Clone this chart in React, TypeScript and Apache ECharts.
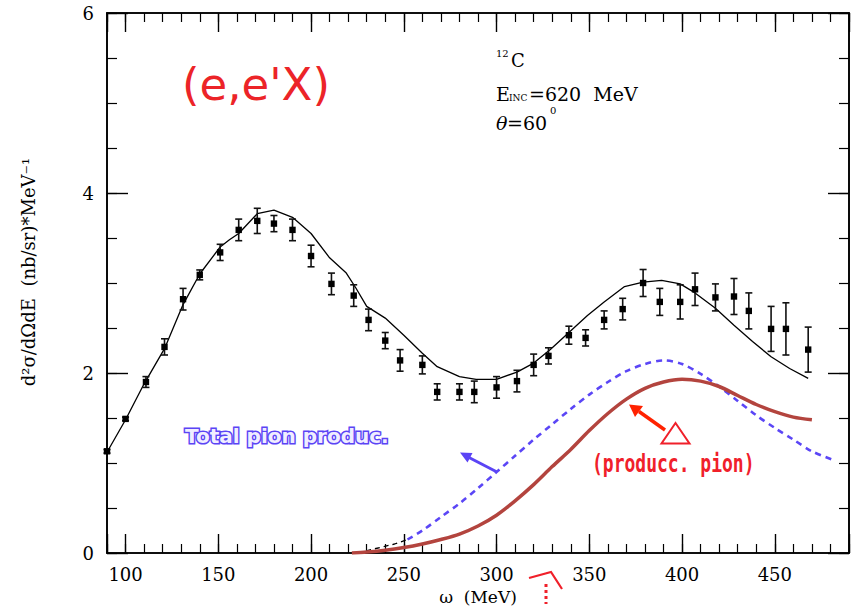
import React, { useEffect, useRef } from "react";
import * as echarts from "echarts";

// Experimental data: omega (MeV), cross section, error
const omega = [90, 100, 111, 121, 131, 140, 151, 161, 171, 180, 190, 200, 211, 223, 231, 240, 248, 260, 268, 280, 288, 300, 311, 320, 328, 339, 348, 358, 368, 379, 388, 399, 407, 418, 428, 436, 448, 456, 468];
const sigma = [1.13, 1.49, 1.90, 2.29, 2.82, 3.09, 3.34, 3.59, 3.69, 3.66, 3.59, 3.30, 2.99, 2.86, 2.59, 2.36, 2.14, 2.09, 1.79, 1.79, 1.79, 1.84, 1.91, 2.09, 2.19, 2.42, 2.39, 2.59, 2.71, 3.00, 2.79, 2.79, 2.93, 2.84, 2.85, 2.69, 2.49, 2.49, 2.26];
const sigmaErr = [0.02, 0.02, 0.06, 0.09, 0.12, 0.055, 0.09, 0.12, 0.14, 0.09, 0.12, 0.12, 0.12, 0.12, 0.12, 0.09, 0.12, 0.10, 0.09, 0.09, 0.12, 0.12, 0.12, 0.12, 0.09, 0.10, 0.09, 0.10, 0.12, 0.15, 0.15, 0.19, 0.18, 0.15, 0.20, 0.20, 0.25, 0.29, 0.25];

// Full theory curve
const theoryW = [90, 100, 110, 121, 131, 140, 151, 156, 161, 171, 180, 190, 200, 210, 219, 224, 230, 240, 250, 260, 268, 280, 289, 300, 311, 320, 329, 339, 349, 358, 369, 379, 389, 399, 407, 418, 428, 438, 448, 458, 468];
const theoryV = [1.12, 1.48, 1.88, 2.27, 2.76, 3.10, 3.40, 3.48, 3.55, 3.77, 3.81, 3.73, 3.55, 3.28, 3.11, 2.95, 2.74, 2.61, 2.42, 2.22, 2.07, 1.96, 1.93, 1.93, 2.01, 2.11, 2.26, 2.45, 2.64, 2.79, 2.96, 3.01, 3.03, 2.99, 2.89, 2.72, 2.53, 2.35, 2.18, 2.05, 1.94];

// Total pion production (dashed)
const startW = [225, 235, 245, 252];
const startV = [0.0, 0.05, 0.10, 0.15];
const totalW = [252, 260, 270, 280, 290, 300, 310, 320, 330, 340, 350, 360, 370, 380, 390, 400, 410, 420, 430, 440, 450, 460, 470, 482];
const totalV = [0.15, 0.25, 0.40, 0.55, 0.72, 0.90, 1.08, 1.26, 1.43, 1.60, 1.76, 1.90, 2.02, 2.10, 2.14, 2.10, 1.99, 1.85, 1.69, 1.53, 1.39, 1.26, 1.13, 1.03];

// Pion production (thick solid)
const pionW = [222, 230, 240, 250, 260, 270, 280, 290, 300, 310, 320, 330, 340, 350, 360, 370, 380, 390, 400, 410, 420, 430, 440, 450, 460, 470];
const pionV = [0.0, 0.01, 0.03, 0.06, 0.10, 0.15, 0.21, 0.30, 0.42, 0.58, 0.76, 0.96, 1.15, 1.36, 1.55, 1.71, 1.83, 1.90, 1.93, 1.91, 1.85, 1.75, 1.65, 1.57, 1.51, 1.48];

const yTickLabels = ["0", "2", "4", "6"];

const zip = (a: number[], b: number[]) => a.map((v, i) => [v, b[i]]);

const SERIF = "DejaVu Serif";

const txt = (x: number, y: number, text: string, extra: any = {}, el: any = {}) => ({
  type: "text",
  x,
  y,
  ...el,
  style: {
    text,
    fontFamily: SERIF,
    fontSize: 19,
    fill: "#000",
    align: "left",
    verticalAlign: "middle",
    textAlign: "left",
    textVerticalAlign: "middle",
    ...extra,
  },
});

export default function App() {
  const ref = useRef<HTMLDivElement>(null);
  useEffect(() => {
    if (!ref.current) return;
    const chart = echarts.init(ref.current, undefined, { renderer: "svg" });

    const xBase = {
      type: "value" as const,
      min: 90,
      max: 490,
      axisLine: { show: true, onZero: false, lineStyle: { color: "#000", width: 1.6 } },
      splitLine: { show: false },
    };
    const yBase = {
      type: "value" as const,
      min: 0,
      max: 6,
      axisLine: { show: true, onZero: false, lineStyle: { color: "#000", width: 1.6 } },
      splitLine: { show: false },
    };
    const xMajorLabel = {
      show: true,
      fontFamily: SERIF,
      fontSize: 18,
      color: "#000",
      margin: 12,
      formatter: (v: number) => (v % 50 === 0 && v >= 100 && v <= 450 ? String(v) : ""),
    };

    const option: any = {
      animation: false,
      backgroundColor: "#fff",
      grid: { left: 107, top: 13, width: 742, height: 540, containLabel: false },
      xAxis: [
        { ...xBase, position: "bottom", splitNumber: 8, axisTick: { show: true, inside: true, length: 19, lineStyle: { color: "#000", width: 1.4 } }, axisLabel: xMajorLabel },
        { ...xBase, position: "bottom", interval: 10, axisTick: { show: true, inside: true, length: 9, lineStyle: { color: "#000", width: 1.2 } }, axisLabel: { show: false } },
        { ...xBase, position: "top", splitNumber: 8, axisTick: { show: true, inside: true, length: 19, lineStyle: { color: "#000", width: 1.4 } }, axisLabel: { show: false } },
        { ...xBase, position: "top", interval: 10, axisTick: { show: true, inside: true, length: 9, lineStyle: { color: "#000", width: 1.2 } }, axisLabel: { show: false } },
      ],
      yAxis: [
        {
          ...yBase,
          position: "left",
          interval: 2,
          axisTick: { show: true, inside: true, length: 21, lineStyle: { color: "#000", width: 1.4 } },
          axisLabel: {
            show: true,
            fontFamily: SERIF,
            fontSize: 18,
            color: "#000",
            margin: 13,
            formatter: (v: number) => yTickLabels[Math.round(v / 2)] ?? "",
          },
        },
        { ...yBase, position: "left", interval: 0.5, axisTick: { show: true, inside: true, length: 10, lineStyle: { color: "#000", width: 1.2 } }, axisLabel: { show: false } },
        { ...yBase, position: "right", interval: 2, axisTick: { show: true, inside: true, length: 21, lineStyle: { color: "#000", width: 1.4 } }, axisLabel: { show: false } },
        { ...yBase, position: "right", interval: 0.5, axisTick: { show: true, inside: true, length: 10, lineStyle: { color: "#000", width: 1.2 } }, axisLabel: { show: false } },
      ],
      series: [
        {
          type: "line",
          name: "theory",
          data: zip(theoryW, theoryV),
          showSymbol: false,
          symbol: "none",
          lineStyle: { color: "#000", width: 1.3 },
          z: 3,
        },
        {
          type: "line",
          name: "start",
          data: zip(startW, startV),
          symbol: "none",
          lineStyle: { color: "#000", width: 1.3, type: [5, 4] },
          z: 3,
        },
        {
          type: "line",
          name: "total",
          data: zip(totalW, totalV),
          symbol: "none",
          smooth: 0.3,
          lineStyle: { color: "#5b46f6", width: 2.6, type: [6, 5] },
          z: 3,
        },
        {
          type: "line",
          name: "pion",
          data: zip(pionW, pionV),
          symbol: "none",
          smooth: 0.3,
          lineStyle: { color: "#b3443e", width: 3.5 },
          z: 4,
        },
        {
          type: "custom",
          name: "data",
          data: omega.map((w, i) => [w, sigma[i], sigmaErr[i]]),
          z: 5,
          renderItem: (params: any, api: any) => {
            const x = api.value(0);
            const y = api.value(1);
            const e = api.value(2);
            const p = api.coord([x, y]);
            const hi = api.coord([x, y + e]);
            const lo = api.coord([x, y - e]);
            const cw = 3.5;
            const st = { stroke: "#111", lineWidth: 1.6 };
            return {
              type: "group",
              children: [
                { type: "line", shape: { x1: hi[0], y1: hi[1], x2: lo[0], y2: lo[1] }, style: st },
                { type: "line", shape: { x1: hi[0] - cw, y1: hi[1], x2: hi[0] + cw, y2: hi[1] }, style: st },
                { type: "line", shape: { x1: lo[0] - cw, y1: lo[1], x2: lo[0] + cw, y2: lo[1] }, style: st },
                { type: "rect", shape: { x: p[0] - 3.2, y: p[1] - 3.2, width: 6.4, height: 6.4 }, style: { fill: "#000" } },
              ],
            };
          },
        },
      ],
      graphic: [
        txt(28, 272, "d\u00B2\u03C3/d\u03A9dE  (nb/sr)*MeV\u207B\u00B9", { fontSize: 18, align: "center", textAlign: "center" }, { rotation: Math.PI / 2 }),
        txt(478, 597, "\u03C9  (MeV)", { fontSize: 17, align: "center", textAlign: "center" }),
        txt(182, 84, "(e,e'X)", { fontFamily: "DejaVu Sans", fontSize: 45, fill: "#ec2428" }),
        txt(496, 53, "12", { fontSize: 10 }),
        txt(511, 60, "C", { fontSize: 18 }),
        txt(496, 94, "E", { fontSize: 19 }),
        txt(509, 98, "INC", { fontSize: 9 }),
        txt(529, 94, "=620  MeV", { fontSize: 19 }),
        txt(496, 123, "\u03B8", { fontSize: 19, fontStyle: "italic" }),
        txt(507, 123, "=60", { fontSize: 19 }),
        txt(550, 110, "0", { fontSize: 10 }),
        txt(185, 436, "Total pion produc.", {
          fontFamily: "DejaVu Sans",
          fontWeight: "bold",
          fontSize: 20,
          fill: "#f0eeff",
          stroke: "#5b44f5",
          lineWidth: 3,
        }),
        { type: "line", shape: { x1: 497, y1: 472, x2: 469, y2: 457.5 }, style: { stroke: "#5b44f5", lineWidth: 3 } },
        { type: "polygon", shape: { points: [[460, 452.5], [472.5, 453], [467.5, 462.5]] }, style: { fill: "#5b44f5" } },
        txt(592, 463, "(producc. pion)", { fontFamily: "DejaVu Sans Mono", fontWeight: "bold", fontSize: 18, fill: "#f0202a" }, { scaleY: 1.35 }),
        { type: "polygon", shape: { points: [[675.5, 423], [661.5, 443.5], [689.5, 443.5]] }, style: { fill: "none", stroke: "#f0202a", lineWidth: 2 } },
        { type: "line", shape: { x1: 665, y1: 430, x2: 639, y2: 411.5 }, style: { stroke: "#ff2200", lineWidth: 3.5 } },
        { type: "polygon", shape: { points: [[629, 404.5], [643, 406], [635, 417]] }, style: { fill: "#ff2200" } },
        { type: "polyline", shape: { points: [[529, 578], [551, 572], [562, 589]] }, style: { stroke: "#f0202a", lineWidth: 2.2, fill: "none" } },
        { type: "line", shape: { x1: 546, y1: 584, x2: 546, y2: 604 }, style: { stroke: "#f0202a", lineWidth: 3, lineDash: [3, 3] } },
      ],
    };

    chart.setOption(option);
    return () => chart.dispose();
  }, []);

  return <div ref={ref} style={{ position: "absolute", left: 0, top: 0, width: 854, height: 607 }} />;
}
